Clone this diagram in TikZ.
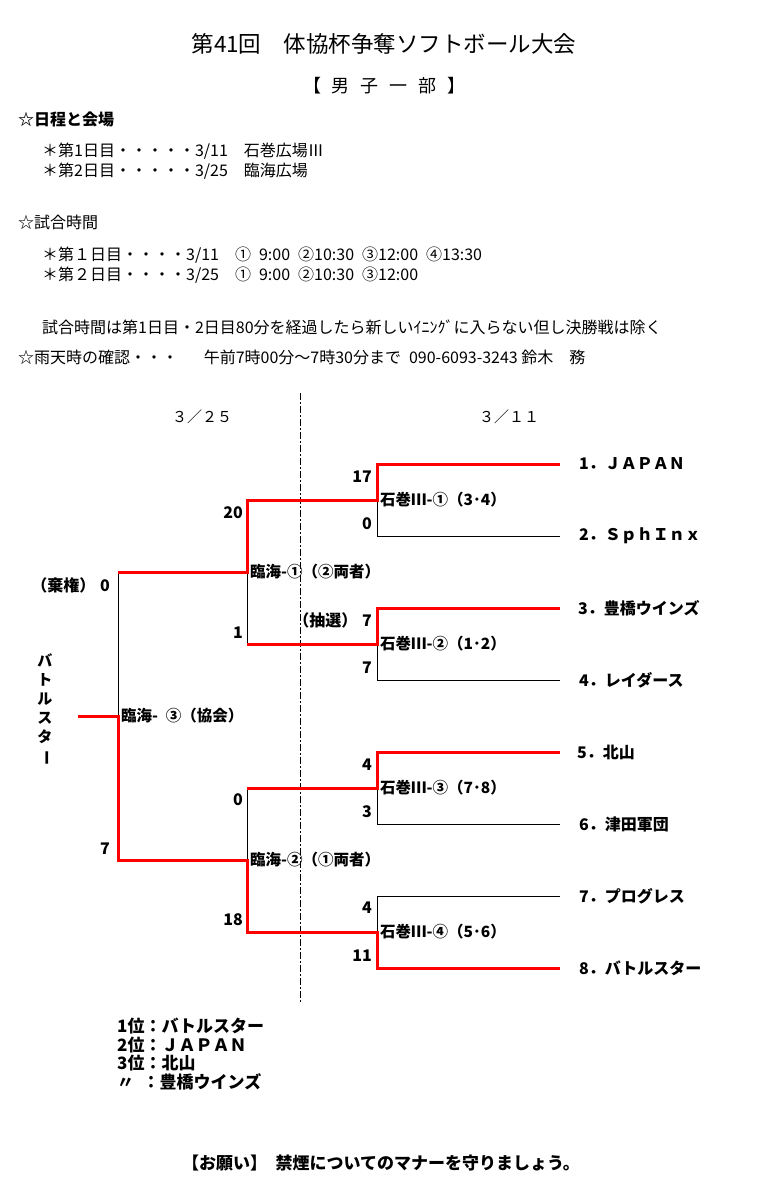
\documentclass[tikz,border=0pt]{standalone}
\usepackage{fontspec}
\setmainfont{Noto Sans CJK JP}
\usetikzlibrary{positioning}
\newcommand\hsp{\hspace{.5em}}

\begin{document}
\begin{tikzpicture}[
        x=1pt, y=-1pt,
        every node/.style={inner sep=0pt},
        txt/.style={anchor=west, font=\fontsize{16}{19}\selectfont},
        head/.style={anchor=west, font=\bfseries\fontsize{16}{19}\selectfont},
        team/.style={anchor=west, font=\bfseries\fontsize{16}{19}\selectfont},
        match/.style={anchor=west, font=\bfseries\fontsize{15.5}{18}\selectfont},
        score/.style={anchor=east, font=\bfseries\fontsize{16}{18}\selectfont},
        result/.style={anchor=west, font=\bfseries\fontsize{17}{18.7}\selectfont},
        win/.style={draw=red, line width=3pt},
        lose/.style={draw=black, line width=0.9pt}
    ]
    \fill[white] (0,0) rectangle (768,1187);
    \useasboundingbox (0,0) rectangle (768,1187);

    % Kopf
    \node (title) [font=\fontsize{22.5}{26}\selectfont] at (384,44) {第41回　体協杯争奪ソフトボール大会};
    \node (div) [font=\fontsize{18}{22}\selectfont] at (384,86) {【\hspace{.6em}男\hspace{.6em}子\hspace{.6em}一\hspace{.6em}部\hspace{.6em}】};

    \node (h1) [head] at (18,119) {☆日程と会場};
    \node (d1) [txt] at (42,151) {＊第1日目・・・・・3/11\hspace{1em}石巻広場Ⅲ};
    \node (d2) [txt] at (42,171) {＊第2日目・・・・・3/25\hspace{1em}臨海広場};

    \node (h2) [txt] at (18,222) {☆試合時間};
    \node (t1) [txt] at (42,255) {＊第１日目・・・・3/11\hspace{1em}①\hsp 9:00\hsp ②10:30\hsp ③12:00\hsp ④13:30};
    \node (t2) [txt] at (42,275) {＊第２日目・・・・3/25\hspace{1em}①\hsp 9:00\hsp ②10:30\hsp ③12:00};
    \node (rule) [txt] at (42,327) {試合時間は第1日目・2日目80分を経過したら新しいｲﾆﾝｸﾞに入らない但し決勝戦は除く};
    \node (rain) [txt] at (18,357) {☆雨天時の確認・・・\hspace{1.6em}午前7時00分～7時30分まで\hsp 090-6093-3243 鈴木　務};

    % Spieltage
    \node (day2) [font=\fontsize{15}{18}\selectfont] at (202,417) {３／２５};
    \node (day1) [font=\fontsize{15}{18}\selectfont] at (509,417) {３／１１};
    \coordinate (dtop) at (300,393);
    \coordinate (dbot) at (300,1003);
    \draw[dash pattern=on 7pt off 2pt on 2pt off 2pt, line width=0.8pt] (dtop) -- (dbot);

    % Teams (Linienende)
    \coordinate (e1) at (560,464);
    \coordinate (e2) at (560,536);
    \coordinate (e3) at (560,608);
    \coordinate (e4) at (560,680);
    \coordinate (e5) at (560,752);
    \coordinate (e6) at (560,824);
    \coordinate (e7) at (560,896);
    \coordinate (e8) at (560,968);
    \coordinate (s1) at (377,464);
    \coordinate (s2) at (377,536);
    \coordinate (s3) at (377,608);
    \coordinate (s4) at (377,680);
    \coordinate (s5) at (377,752);
    \coordinate (s6) at (377,824);
    \coordinate (s7) at (377,896);
    \coordinate (s8) at (377,968);

    % Runde 1
    \coordinate (q1) at (377,500);
    \coordinate (q2) at (377,644);
    \coordinate (q3) at (377,788);
    \coordinate (q4) at (377,932);
    \coordinate (r1) at (247,500);
    \coordinate (r2) at (247,644);
    \coordinate (r3) at (247,788);
    \coordinate (r4) at (247,932);

    % Runde 2 und Finale
    \coordinate (p1) at (247,572);
    \coordinate (p2) at (247,860);
    \coordinate (f1) at (118,572);
    \coordinate (f2) at (118,860);
    \coordinate (fm) at (118,716);
    \coordinate (champ) at (78,716);

    % Verlierer
    \draw[lose] (e2) -- (s2) -- (q1);
    \draw[lose] (e4) -- (s4) -- (q2);
    \draw[lose] (e6) -- (s6) -- (q3);
    \draw[lose] (e7) -- (s7) -- (q4);
    \draw[lose] (p1) -- (r2);
    \draw[lose] (r3) -- (p2);
    \draw[lose] (f1) -- (fm);

    % Sieger
    \draw[win] (e1) -- (s1) -- (q1) -- (r1) -- (p1) -- (f1);
    \draw[win] (e3) -- (s3) -- (q2) -- (r2);
    \draw[win] (e5) -- (s5) -- (q3) -- (r3);
    \draw[win] (e8) -- (s8) -- (q4) -- (r4) -- (p2) -- (f2) -- (fm) -- (champ);

    % Mannschaften
    \node (n1) [team, right=19pt of e1] {1．ＪＡＰＡＮ};
    \node (n2) [team, right=19pt of e2] {2．ＳｐｈＩｎｘ};
    \node (n3) [team, right=18pt of e3] {3．豊橋ウインズ};
    \node (n4) [team, right=19pt of e4] {4．レイダース};
    \node (n5) [team, right=17pt of e5] {5．北山};
    \node (n6) [team, right=19pt of e6] {6．津田軍団};
    \node (n7) [team, right=19pt of e7] {7．プログレス};
    \node (n8) [team, right=19pt of e8] {8．バトルスター};

    % Spiele
    \node (m1) [match, right=3pt of q1] {石巻Ⅲ-①（3･4）};
    \node (m2) [match, right=3pt of q2] {石巻Ⅲ-②（1･2）};
    \node (m3) [match, right=3pt of q3] {石巻Ⅲ-③（7･8）};
    \node (m4) [match, right=3pt of q4] {石巻Ⅲ-④（5･6）};
    \node (m5) [match, right=3pt of p1] {臨海-①（②両者）};
    \node (m6) [match, right=3pt of p2] {臨海-②（①両者）};
    \node (m7) [match, right=3pt of fm] {臨海-\hsp ③（協会）};

    % Ergebnisse
    \node (c1) [score] at (372,477) {17};
    \node (c2) [score] at (372,524) {0};
    \node (c3) [score] at (372,620) {（抽選）\hspace{.3em}7};
    \node (c4) [score] at (372,668) {7};
    \node (c5) [score] at (372,765) {4};
    \node (c6) [score] at (372,812) {3};
    \node (c7) [score] at (372,908) {4};
    \node (c8) [score] at (372,956) {11};
    \node (c9) [score] at (243,513) {20};
    \node (c10) [score] at (243,633) {1};
    \node (c11) [score] at (243,800) {0};
    \node (c12) [score] at (243,920) {18};
    \node (c13) [score] at (110,585) {（棄権）\hspace{.3em}0};
    \node (c14) [score] at (110,849) {7};

    \node (vbs) [font=\bfseries\fontsize{15}{19}\selectfont, align=center] at (45,710) {バ\\ト\\ル\\ス\\タ\\\rotatebox[origin=c]{-90}{ー}};

    % Platzierung
    \node (pl1) [result] at (117,1026) {1位：バトルスター};
    \node (pl2) [result] at (117,1045) {2位：ＪＡＰＡＮ};
    \node (pl3) [result] at (117,1063) {3位：北山};
    \node (pl4) [result] at (117,1082) {〃\hspace{.5em}：豊橋ウインズ};

    \node (note) [font=\bfseries\fontsize{17}{20}\selectfont] at (381,1163) {【お願い】\hsp 禁煙についてのマナーを守りましょう。};

\end{tikzpicture}
\end{document}
